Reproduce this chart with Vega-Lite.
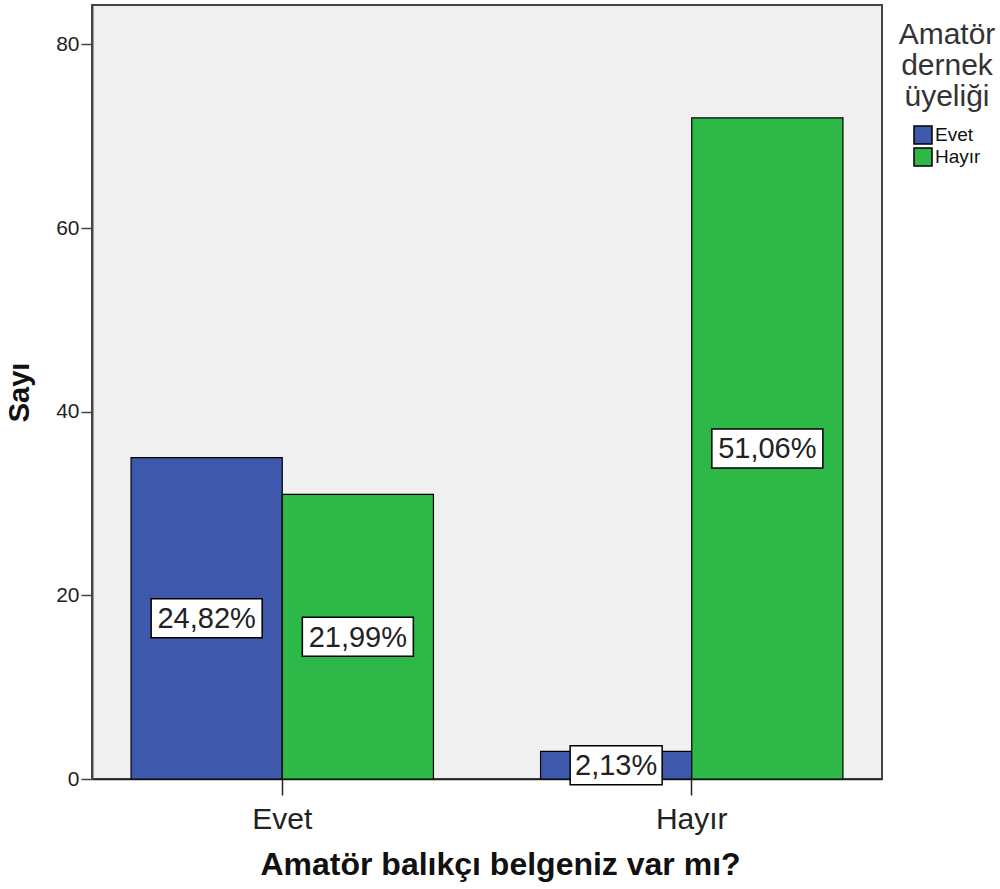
{
  "$schema": "https://vega.github.io/schema/vega-lite/v6.json",
  "width": 790,
  "height": 774,
  "autosize": {"type": "none"},
  "padding": {"left": 92, "top": 5, "right": 118, "bottom": 110},
  "background": "white",
  "config": {
    "font": "Liberation Sans",
    "view": {"fill": "#F0F0F0", "stroke": "#444444", "strokeWidth": 2},
    "axis": {"grid": false}
  },
  "data": {
    "values": [
      {"belge": "Evet", "uyelik": "Evet", "value": 35, "label": "24,82%"},
      {"belge": "Evet", "uyelik": "Hayır", "value": 31, "label": "21,99%"},
      {"belge": "Hayır", "uyelik": "Evet", "value": 3, "label": "2,13%"},
      {"belge": "Hayır", "uyelik": "Hayır", "value": 72, "label": "51,06%"}
    ]
  },
  "encoding": {
    "x": {
      "field": "belge", "type": "nominal", "sort": ["Evet", "Hayır"],
      "scale": {"paddingInner": 0.2616, "paddingOuter": 0.0954},
      "axis": {
        "title": "Amatör balıkçı belgeniz var mı?",
        "labelAngle": 0, "labelFontSize": 30, "labelColor": "#222",
        "titleFontSize": 32, "titleFontWeight": "bold", "titleColor": "#111",
        "titleX": 408,
        "tickSize": 16, "tickColor": "#222", "tickWidth": 1.5,
        "domainColor": "#222", "domainWidth": 1.5,
        "labelPadding": 9, "titlePadding": 15
      }
    },
    "xOffset": {
      "field": "uyelik", "type": "nominal", "sort": ["Evet", "Hayır"],
      "scale": {"paddingInner": 0, "paddingOuter": 0}
    }
  },
  "layer": [
    {
      "mark": {"type": "bar", "stroke": "black", "strokeWidth": 1.2},
      "encoding": {
        "y": {
          "field": "value", "type": "quantitative",
          "scale": {"domain": [0, 84.3], "nice": false},
          "axis": {
            "values": [0, 20, 40, 60, 80], "title": "Sayı",
            "labelFontSize": 21, "labelColor": "#222",
            "tickSize": 11, "tickColor": "#444", "tickWidth": 1.5,
            "domainColor": "#444", "domainWidth": 2,
            "labelPadding": 2,
            "titleFontSize": 29, "titleFontWeight": "bold", "titleColor": "#111",
            "titlePadding": 21
          }
        },
        "color": {
          "field": "uyelik", "type": "nominal", "sort": ["Evet", "Hayır"],
          "scale": {"domain": ["Evet", "Hayır"], "range": ["#3E58AC", "#2EB848"]},
          "legend": {
            "title": ["Amatör", "dernek", "üyeliği"],
            "orient": "none", "legendX": 807, "legendY": 15,
            "titleFontSize": 30, "titleFontWeight": "normal", "titleColor": "#333",
            "titleLineHeight": 31, "titleAlign": "center", "titleAnchor": "middle",
            "titlePadding": 13,
            "symbolType": "square", "symbolSize": 324,
            "symbolStrokeColor": "black", "symbolStrokeWidth": 1.5,
            "labelFontSize": 19, "labelColor": "#111", "labelOffset": 2,
            "rowPadding": -2
          }
        }
      }
    },
    {
      "transform": [{"filter": "length(datum.label) == 6"}],
      "mark": {
        "type": "point",
        "shape": "M-1,-0.3514L1,-0.3514L1,0.3514L-1,0.3514Z",
        "size": 12321, "filled": true, "fill": "white", "opacity": 1,
        "stroke": "black", "strokeWidth": 1.5
      },
      "encoding": {
        "y": {"field": "value", "type": "quantitative", "scale": {"domain": [0, 168.6], "nice": false}, "axis": null}
      }
    },
    {
      "transform": [{"filter": "length(datum.label) != 6"}],
      "mark": {
        "type": "point",
        "shape": "M-1,-0.424L1,-0.424L1,0.424L-1,0.424Z",
        "size": 8464, "filled": true, "fill": "white", "opacity": 1,
        "stroke": "black", "strokeWidth": 1.5
      },
      "encoding": {
        "y": {"field": "value", "type": "quantitative", "scale": {"domain": [0, 168.6], "nice": false}, "axis": null}
      }
    },
    {
      "mark": {"type": "text", "fontSize": 29, "color": "#222", "baseline": "middle", "dy": 1},
      "encoding": {
        "text": {"field": "label"},
        "y": {"field": "value", "type": "quantitative", "scale": {"domain": [0, 168.6], "nice": false}, "axis": null}
      }
    }
  ],
  "resolve": {"scale": {"y": "independent"}}
}
